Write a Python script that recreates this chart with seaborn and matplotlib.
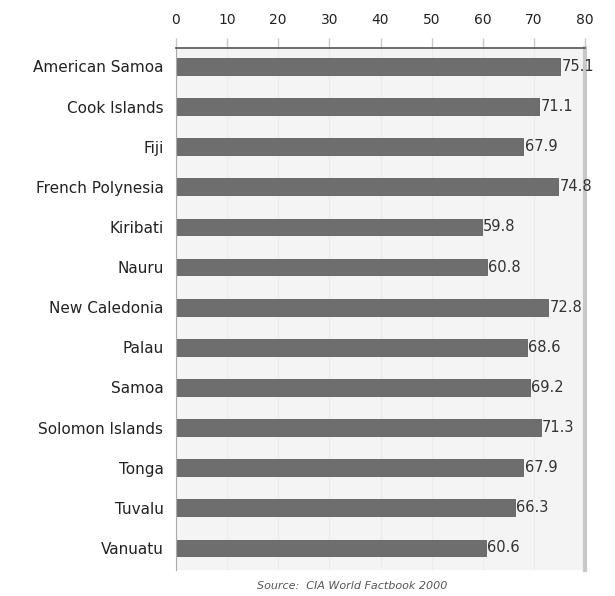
import matplotlib
matplotlib.use("Agg")
import matplotlib.pyplot as plt
import seaborn as sns
import pandas as pd

countries = ["American Samoa", "Cook Islands", "Fiji", "French Polynesia", "Kiribati",
             "Nauru", "New Caledonia", "Palau", "Samoa", "Solomon Islands", "Tonga",
             "Tuvalu", "Vanuatu"]
values = [75.1, 71.1, 67.9, 74.8, 59.8, 60.8, 72.8, 68.6, 69.2, 71.3, 67.9, 66.3, 60.6]
ticks = [0, 10, 20, 30, 40, 50, 60, 70, 80]

df = pd.DataFrame({"country": countries, "value": values})

sns.set_theme(style="white")
plt.rcParams["font.family"] = ["DejaVu Sans"]

fig = plt.figure(figsize=(6.15, 5.96), dpi=100)
L, R, T, B = 176, 585, 48, 570
ax = fig.add_axes([L/615, 1 - B/596, (R-L)/615, (B-T)/596])
ax.set_facecolor("#f4f4f4")

sns.barplot(data=df, x="value", y="country", color="#6e6e6e", width=0.42,
            saturation=1, ax=ax, edgecolor="#5e5e5e", linewidth=0.6)

for i, v in enumerate(values):
    ax.text(v + 0.3, i, f"{v}", va="center", ha="left", fontsize=10.5, color="#333333")

ax.set_xlim(0, 80)
ax.set_ylim(12.55, -0.46)
ax.set_xticks(ticks)
ax.xaxis.tick_top()
ax.tick_params(axis="x", labelsize=10, colors="#c8c8c8", labelcolor="#222222",
               length=7, width=1, direction="out", pad=8)
ax.tick_params(axis="y", labelsize=11, colors="#222222", length=0, pad=9)
for t in ticks:
    ax.axvline(t, color="#ececec", lw=0.8, zorder=0)
ax.set_xlabel("")
ax.set_ylabel("")
ax.spines["bottom"].set_visible(False)
ax.spines["top"].set_color("#555555")
ax.spines["top"].set_linewidth(1.2)
ax.spines["left"].set_color("#aaaaaa")
ax.spines["left"].set_linewidth(0.8)
ax.spines["right"].set_color("#c8c8c8")
ax.spines["right"].set_linewidth(3)

fig.text(352/615, 1 - 586/596, "Source:  CIA World Factbook 2000", ha="center", va="center",
         fontsize=8, style="italic", color="#555555")

fig.savefig("out.png", dpi=100, facecolor="white")
